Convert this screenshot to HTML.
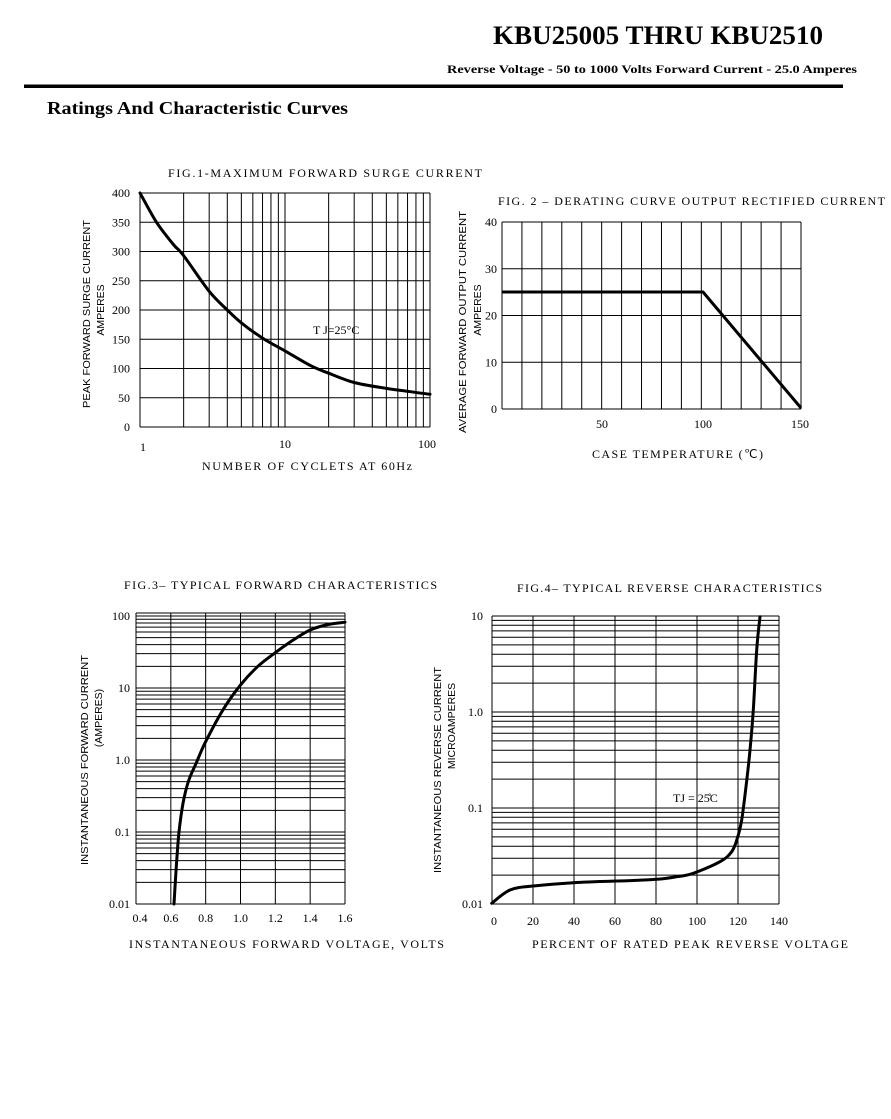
<!DOCTYPE html>
<html><head><meta charset="utf-8"><style>
html,body{margin:0;padding:0;background:#fff;}
svg{display:block;}
.s{font-family:"Liberation Serif",serif;fill:#000;}
.a{font-family:"Liberation Sans",sans-serif;fill:#000;}
</style></head><body>
<svg id="c" width="891" height="1119" viewBox="0 0 891 1119" xmlns="http://www.w3.org/2000/svg">
<text class="s" x="823" y="44" text-anchor="end" font-size="26" font-weight="bold" textLength="330" lengthAdjust="spacingAndGlyphs">KBU25005 THRU KBU2510</text>
<text class="s" x="857" y="73" text-anchor="end" font-size="12" font-weight="bold" textLength="410" lengthAdjust="spacingAndGlyphs">Reverse Voltage - 50 to 1000 Volts Forward Current - 25.0 Amperes</text>
<rect x="24" y="84.5" width="819" height="3.5" fill="#000"/>
<text class="s" x="47" y="114" font-size="18" font-weight="bold" textLength="301" lengthAdjust="spacingAndGlyphs">Ratings And Characteristic Curves</text>

<text class="s" x="168" y="177" font-size="12" textLength="314" lengthAdjust="spacing">FIG.1-MAXIMUM FORWARD SURGE CURRENT</text>
<text class="s" x="202" y="470" font-size="12" textLength="210" lengthAdjust="spacing">NUMBER OF CYCLETS AT 60Hz</text>
<text class="a" font-size="10.5" transform="translate(90,314) rotate(-90)" text-anchor="middle" textLength="188" lengthAdjust="spacingAndGlyphs">PEAK FORWARD SURGE CURRENT</text>
<text class="a" font-size="10.5" transform="translate(104,310) rotate(-90)" text-anchor="middle">AMPERES</text>
<text class="s" x="313" y="334" font-size="12">T J=25°C</text>

<text class="s" x="498" y="205" font-size="12" textLength="387" lengthAdjust="spacing">FIG. 2 – DERATING CURVE OUTPUT RECTIFIED CURRENT</text>
<text class="s" x="592" y="458" font-size="12" textLength="171" lengthAdjust="spacing">CASE TEMPERATURE (℃)</text>
<text class="a" font-size="10.5" transform="translate(466,322) rotate(-90)" text-anchor="middle" textLength="222" lengthAdjust="spacingAndGlyphs">AVERAGE FORWARD OUTPUT CURRENT</text>
<text class="a" font-size="10.5" transform="translate(481,310) rotate(-90)" text-anchor="middle">AMPERES</text>

<text class="s" x="124" y="589" font-size="12" textLength="313" lengthAdjust="spacing">FIG.3– TYPICAL FORWARD CHARACTERISTICS</text>
<text class="s" x="129" y="948" font-size="12" textLength="315" lengthAdjust="spacing">INSTANTANEOUS FORWARD VOLTAGE, VOLTS</text>
<text class="a" font-size="10.5" transform="translate(88,760) rotate(-90)" text-anchor="middle" textLength="210" lengthAdjust="spacingAndGlyphs">INSTANTANEOUS FORWARD CURRENT</text>
<text class="a" font-size="10.5" transform="translate(102,718) rotate(-90)" text-anchor="middle">(AMPERES)</text>

<text class="s" x="517" y="592" font-size="12" textLength="305" lengthAdjust="spacing">FIG.4– TYPICAL REVERSE CHARACTERISTICS</text>
<text class="s" x="532" y="948" font-size="12" textLength="316" lengthAdjust="spacing">PERCENT OF RATED PEAK REVERSE VOLTAGE</text>
<text class="a" font-size="10.5" transform="translate(441,770) rotate(-90)" text-anchor="middle" textLength="206" lengthAdjust="spacingAndGlyphs">INSTANTANEOUS REVERSE CURRENT</text>
<text class="a" font-size="10.5" transform="translate(455,726) rotate(-90)" text-anchor="middle">MICROAMPERES</text>
<text class="s" x="673" y="802" font-size="12">TJ = 25̊C</text>
<g id="g"></g>
</svg>
<script>
var g=document.getElementById('g'),h='';
function L(x1,y1,x2,y2,w){h+='<line x1="'+x1+'" y1="'+y1+'" x2="'+x2+'" y2="'+y2+'" stroke="#000" stroke-width="'+(w||1)+'"/>';}
function T(x,y,s,a){h+='<text class="s" x="'+x+'" y="'+y+'" font-size="12" text-anchor="'+(a||'middle')+'">'+s+'</text>';}
function P(pts){h+='<polyline fill="none" stroke="#000" stroke-width="3" stroke-linejoin="round" points="'+pts.map(function(p){return p[0].toFixed(1)+','+p[1].toFixed(1)}).join(' ')+'"/>';}
function S(p){var d='M'+p[0][0].toFixed(1)+','+p[0][1].toFixed(1);
for(var i=0;i<p.length-1;i++){var a=p[i-1]||p[i],b=p[i],c=p[i+1],e=p[i+2]||c;
d+=' C'+(b[0]+(c[0]-a[0])/6).toFixed(1)+','+(b[1]+(c[1]-a[1])/6).toFixed(1)+' '+(c[0]-(e[0]-b[0])/6).toFixed(1)+','+(c[1]-(e[1]-b[1])/6).toFixed(1)+' '+c[0].toFixed(1)+','+c[1].toFixed(1);}
h+='<path fill="none" stroke="#000" stroke-width="3" stroke-linecap="round" d="'+d+'"/>';}
var lg=Math.log10;
// Fig1
var x0=140,x1=430,y0=193,y1=427;
for(var d=0;d<2;d++)for(var k=1;k<=10;k++){var x=x0+145*(d+lg(k));L(x,y0,x,y1);}
for(var i=0;i<=8;i++){var y=y1-i*(y1-y0)/8;L(x0,y,x1,y);T(130,y+4,i*50,'end');}
L(x0,y0,x0,y1);L(x1,y0,x1,y1);
T(143,451,'1');T(285,448,'10');T(427,448,'100');
var f1=[[1,400],[1.3,350],[1.7,312],[2,293],[3,232],[4,200],[5,178],[7,152],[10,130],[15,105],[20,92],[30,76],[50,66],[70,61],[100,56]];
S(f1.map(function(p){return [x0+145*lg(p[0]),y1-p[1]*0.585];}));
// Fig2
x0=502;x1=801;y0=222;y1=409;
for(var k=0;k<=15;k++){var x=x0+k*(x1-x0)/15;L(x,y0,x,y1);}
for(var i=0;i<=4;i++){var y=y1-i*(y1-y0)/4;L(x0,y,x1,y);T(497,y+4,i*10,'end');}
T(602,428,'50');T(703,428,'100');T(800,428,'150');
P([[x0,292],[703,292],[801,408]]);
// Fig3
x0=136;x1=345;y0=616;y1=904;
for(var d=0;d<4;d++)for(var k=1;k<=10;k++){var y=y1-72*(d+lg(k));L(x0,y,x1,y);}
L(x0,613,x1,613);
for(var k=0;k<=6;k++){var x=x0+k*(x1-x0)/6;L(x,613,x,y1);T(x+(k==0?4:0),922,(0.4+k*0.2).toFixed(1));}
var lab=['0.01','0.1','1.0','10','100'];
for(var d=0;d<=4;d++)T(130,y1-72*d+4,lab[d],'end');
var f3=[[0.618,0.01],[0.632,0.035],[0.647,0.1],[0.67,0.25],[0.7,0.5],[0.745,0.9],[0.8,1.8],[0.9,5],[1.0,11],[1.1,20],[1.2,31],[1.3,46],[1.4,64],[1.5,76],[1.6,82]];
S(f3.map(function(p){return [x0+(p[0]-0.4)*174.2,y1-(lg(p[1])+2)*72];}));
// Fig4
x0=492;x1=779;y0=616;y1=904;
for(var d=0;d<3;d++)for(var k=1;k<=10;k++){var y=y1-96*(d+lg(k));L(x0,y,x1,y);}
for(var k=0;k<=7;k++){var x=x0+k*(x1-x0)/7;L(x,y0,x,y1);T(x+(k==0?2:0),925,k*20);}
var lab4=['0.01','0.1','1.0','10'];
for(var d=0;d<=3;d++)T(483,y1-96*d+4,lab4[d],'end');
var f4=[[95,910],[150,870],[220,858],[340,848],[500,842],[590,838],[650,830],[700,820],[780,785],[815,755],[832,715],[845,660],[858,560],[870,450],[880,330],[890,150],[900,50]];
S(f4.map(function(p){return [460+p[0]/3,600+p[1]/3];}));
g.innerHTML=h;
</script>
</body></html>
